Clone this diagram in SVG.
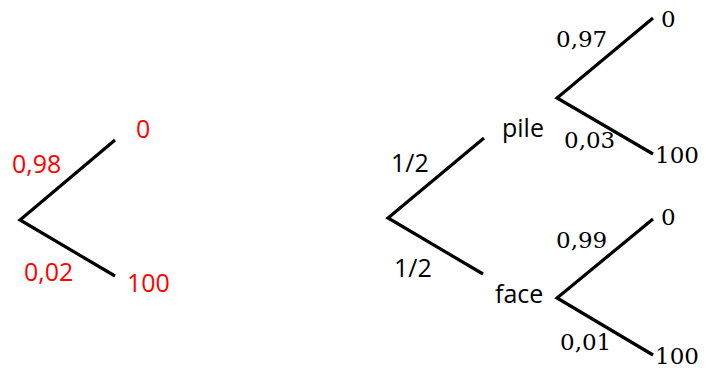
<svg xmlns="http://www.w3.org/2000/svg" width="711" height="372" viewBox="0 0 711 372">
<style>
.e{stroke:#000;stroke-width:3.2;fill:none;stroke-linecap:butt}
.s{font-family:"Open Sans","Liberation Sans",sans-serif;font-size:25px;fill:#000}
.r{fill:#ff0000}
.m{font-family:"DejaVu Serif","Liberation Serif",serif;font-size:23px;fill:#000}
</style>
<rect width="711" height="372" fill="#fff"/>
<g id="connectors">
<polyline class="e" points="115,140 20,220 115,276"/>
<polyline class="e" points="484,138 388,218 483,274"/>
<polyline class="e" points="653,18 557,98 653,154"/>
<polyline class="e" points="653,219 557,298 653,355"/>
</g>
<g id="tree1">
<text class="s r" x="136" y="138">0</text>
<text class="s r" x="12" y="173">0,98</text>
<text class="s r" x="24" y="281">0,02</text>
<text class="s r" x="127" y="292">100</text>
</g>
<g id="tree2">
<text class="s" x="391" y="172">1/2</text>
<text class="s" x="394" y="277">1/2</text>
<text class="s" x="502" y="137">pile</text>
<text class="s" x="495" y="303">face</text>
</g>
<g id="pile-branch">
<text class="m" x="661" y="27">0</text>
<text class="m" x="556" y="47">0,97</text>
<text class="m" x="564" y="148">0,03</text>
<text class="m" x="655" y="163">100</text>
</g>
<g id="face-branch">
<text class="m" x="661" y="225">0</text>
<text class="m" x="556" y="248">0,99</text>
<text class="m" x="560" y="350">0,01</text>
<text class="m" x="655" y="364">100</text>
</g>
</svg>
